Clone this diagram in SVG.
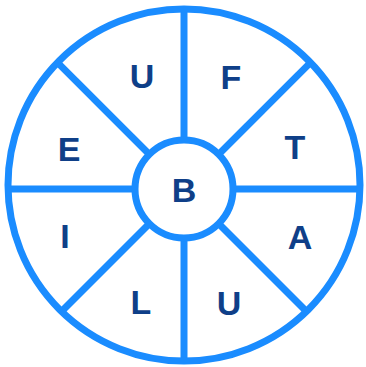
<svg xmlns="http://www.w3.org/2000/svg" width="366" height="367" viewBox="0 0 366 367">
<style>
.ln{stroke:#1a8cff;stroke-width:7;fill:none}
.lbl{font-family:"Liberation Sans",Arial,sans-serif;font-weight:bold;font-size:34px;fill:#0f3f88;text-anchor:middle}
</style>
<rect width="366" height="367" fill="#fff"/>
<g id="connectors">
<line class="ln" x1="184" y1="189" x2="184" y2="9"/>
<line class="ln" x1="184" y1="189" x2="184" y2="361"/>
<line class="ln" x1="184" y1="189" x2="8" y2="189"/>
<line class="ln" x1="184" y1="189" x2="360" y2="189"/>
<line class="ln" x1="184" y1="189" x2="57.6" y2="62.6"/>
<line class="ln" x1="184" y1="189" x2="310.4" y2="62.6"/>
<line class="ln" x1="184" y1="189" x2="306.5" y2="311.5"/>
<line class="ln" x1="184" y1="189" x2="61.5" y2="311.5"/>
</g>
<g id="outer"><circle class="ln" cx="184" cy="185" r="176"/></g>
<g id="center"><circle class="ln" cx="184" cy="189" r="49" fill="#fff" style="fill:#fff"/><text class="lbl" x="184" y="202">B</text></g>
<g id="s1"><text class="lbl" x="142" y="88">U</text></g>
<g id="s2"><text class="lbl" x="231" y="89">F</text></g>
<g id="s3"><text class="lbl" x="295" y="159">T</text></g>
<g id="s4"><text class="lbl" x="300" y="249">A</text></g>
<g id="s5"><text class="lbl" x="229" y="315">U</text></g>
<g id="s6"><text class="lbl" x="141" y="314">L</text></g>
<g id="s7"><text class="lbl" x="65" y="248">I</text></g>
<g id="s8"><text class="lbl" x="69" y="161">E</text></g>
</svg>
